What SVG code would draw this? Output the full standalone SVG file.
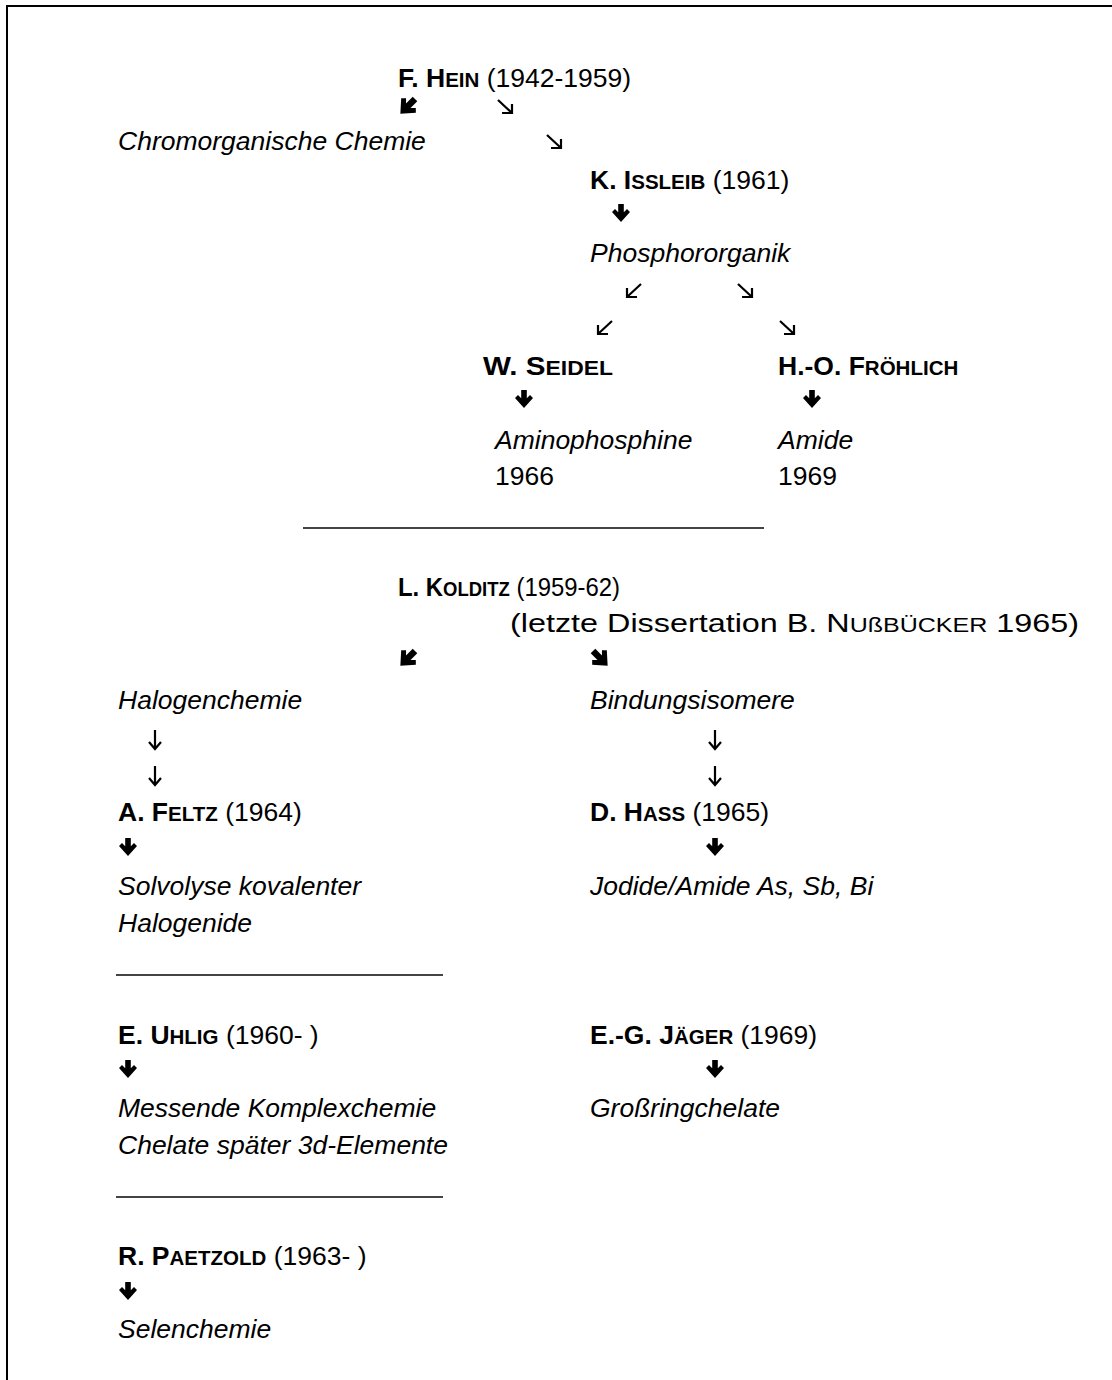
<svg xmlns="http://www.w3.org/2000/svg" width="1112" height="1380" viewBox="0 0 1112 1380">
<style>
text{font-family:"Liberation Sans",Arial,sans-serif;font-size:26.5px;fill:#000}
.b{font-weight:bold}
.i{font-style:italic}
.sc{font-size:20.5px}
.rule{stroke:#444;stroke-width:1.8}
.thin{fill:none;stroke:#000;stroke-width:2.2;stroke-linecap:butt}
</style>
<defs>
<path id="bd" d="M-2.8,0H2.8V11H-2.8Z M-9,8L-6,5L0,11L6,5L9,8L0,18Z" fill="#000"/>
<path id="td" class="thin" d="M7,0V19 M1,12L7,19L13,12"/>
<path id="tse" class="thin" d="M1,1L15,14 M15,5V14H5"/>
<path id="tsw" class="thin" d="M15,1L1,14 M1,5V14H11"/>
</defs>
<path d="M7,1380V6H1112" fill="none" stroke="#000" stroke-width="2"/>
<g id="connectors">
<use href="#bd" transform="translate(415,99) rotate(45) scale(1.15)"/>
<use href="#tse" x="497" y="99"/>
<use href="#tse" x="546" y="134"/>
<use href="#bd" x="621" y="204"/>
<use href="#tsw" x="626" y="283"/>
<use href="#tse" x="737" y="283"/>
<use href="#tsw" x="597" y="320"/>
<use href="#tse" x="779" y="320"/>
<use href="#bd" x="524" y="390"/>
<use href="#bd" x="812" y="390"/>
<use href="#bd" transform="translate(415,651) rotate(45) scale(1.15)"/>
<use href="#bd" transform="translate(593,651) rotate(-45) scale(1.15)"/>
<use href="#td" x="148" y="730"/>
<use href="#td" x="148" y="766"/>
<use href="#td" x="708" y="730"/>
<use href="#td" x="708" y="766"/>
<use href="#bd" x="128" y="838"/>
<use href="#bd" x="715" y="838"/>
<use href="#bd" x="128" y="1060"/>
<use href="#bd" x="715" y="1060"/>
<use href="#bd" x="128" y="1282"/>
</g>
<g id="hein"><text x="398" y="87"><tspan class="b">F. H</tspan><tspan class="b sc">EIN</tspan> (1942-1959)</text></g>
<g id="chromorganische"><text class="i" x="118" y="150">Chromorganische Chemie</text></g>
<g id="issleib"><text x="590" y="189"><tspan class="b">K. I</tspan><tspan class="b sc">SSLEIB</tspan> (1961)</text></g>
<g id="phosphororganik"><text class="i" x="590" y="262">Phosphororganik</text></g>
<g id="seidel"><text x="483" y="375" textLength="130" lengthAdjust="spacingAndGlyphs"><tspan class="b">W. S</tspan><tspan class="b sc">EIDEL</tspan></text>
<text class="i" x="495" y="449">Aminophosphine</text><text x="495" y="485">1966</text></g>
<g id="froehlich"><text x="778" y="375"><tspan class="b">H.-O. F</tspan><tspan class="b sc">RÖHLICH</tspan></text>
<text class="i" x="778" y="449">Amide</text><text x="778" y="485">1969</text></g>
<line class="rule" x1="303" y1="528" x2="764" y2="528"/>
<g id="kolditz"><text x="398" y="596" textLength="222" lengthAdjust="spacingAndGlyphs"><tspan class="b">L. K</tspan><tspan class="b sc">OLDITZ</tspan> (1959-62)</text>
<text x="510" y="632" textLength="569" lengthAdjust="spacingAndGlyphs">(letzte Dissertation B. N<tspan class="sc">UßBÜCKER</tspan> 1965)</text></g>
<g id="halogenchemie"><text class="i" x="118" y="709">Halogenchemie</text></g>
<g id="bindungsisomere"><text class="i" x="590" y="709">Bindungsisomere</text></g>
<g id="feltz"><text x="118" y="821"><tspan class="b">A. F</tspan><tspan class="b sc">ELTZ</tspan> (1964)</text>
<text class="i" x="118" y="895">Solvolyse kovalenter</text><text class="i" x="118" y="932">Halogenide</text></g>
<g id="hass"><text x="590" y="821"><tspan class="b">D. H</tspan><tspan class="b sc">ASS</tspan> (1965)</text>
<text class="i" x="590" y="895">Jodide/Amide As, Sb, Bi</text></g>
<line class="rule" x1="116" y1="975" x2="443" y2="975"/>
<g id="uhlig"><text x="118" y="1044"><tspan class="b">E. U</tspan><tspan class="b sc">HLIG</tspan> (1960- )</text>
<text class="i" x="118" y="1117">Messende Komplexchemie</text><text class="i" x="118" y="1154">Chelate später 3d-Elemente</text></g>
<g id="jaeger"><text x="590" y="1044"><tspan class="b">E.-G. J</tspan><tspan class="b sc">ÄGER</tspan> (1969)</text>
<text class="i" x="590" y="1117">Großringchelate</text></g>
<line class="rule" x1="116" y1="1197" x2="443" y2="1197"/>
<g id="paetzold"><text x="118" y="1265"><tspan class="b">R. P</tspan><tspan class="b sc">AETZOLD</tspan> (1963- )</text>
<text class="i" x="118" y="1338">Selenchemie</text></g>
</svg>
